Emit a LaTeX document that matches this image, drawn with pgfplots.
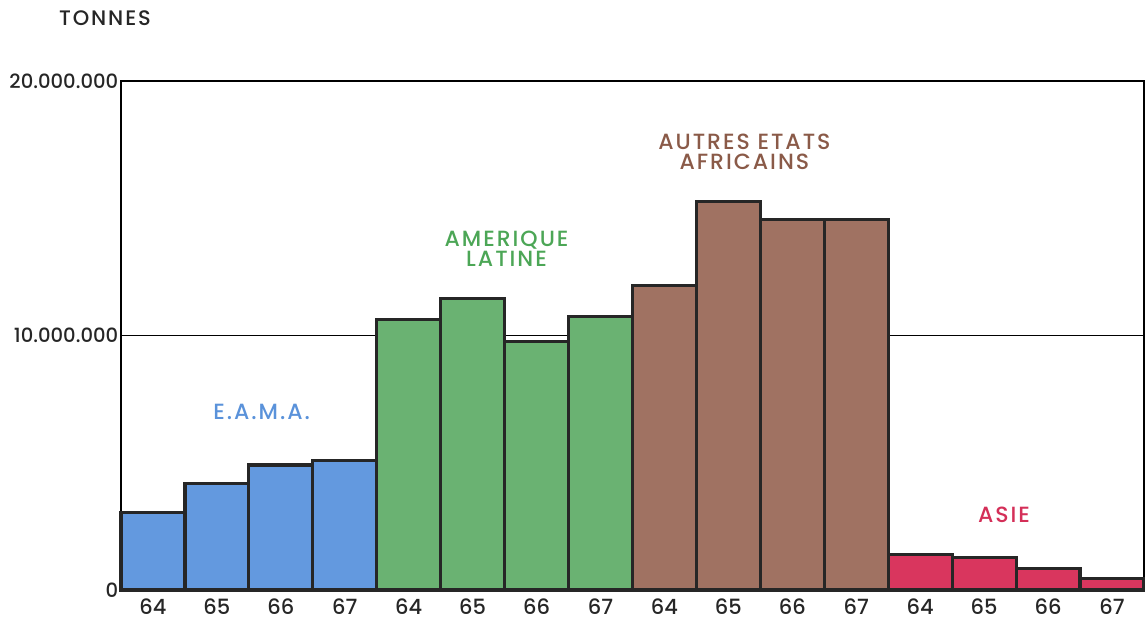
\documentclass[border=0pt]{standalone}
\usepackage{fontspec}
\setmainfont{Poppins Medium}
\newfontfamily\spaced[LetterSpace=9]{Poppins Medium}
\usepackage{pgfplots}
\pgfplotsset{compat=1.18}
\definecolor{cblue}{HTML}{6399DF}
\definecolor{cgreen}{HTML}{6AB272}
\definecolor{cbrown}{HTML}{A07262}
\definecolor{cred}{HTML}{D9365E}
\definecolor{tblue}{HTML}{5A92DA}
\definecolor{tgreen}{HTML}{4CA656}
\definecolor{tbrown}{HTML}{8A5A48}
\definecolor{tred}{HTML}{D42F58}
\begin{document}
\begin{tikzpicture}
\begin{axis}[
  scale only axis,
  width=511.5pt, height=254.5pt,
  xmin=-0.5, xmax=15.5, ymin=0, ymax=20000000,
  xtick={0,...,15},
  xticklabels={64,65,66,67,64,65,66,67,64,65,66,67,64,65,66,67},
  ytick={0,10000000,20000000},
  yticklabels={0,10.000.000,20.000.000},
  scaled y ticks=false,
  major tick length=0pt,
  ymajorgrids, grid style={black, line width=0.6pt},
  axis line style={black, line width=0.8pt},
  tick label style={font=\fontsize{10.5}{12}\selectfont, text=black!85},
  yticklabel style={inner sep=1.2pt, font=\fontsize{9.8}{12}\selectfont},
  xticklabel style={yshift=-1pt},
  ybar, bar width=1,
  every axis plot/.append style={bar shift=0pt, draw=black!85, line width=1.6pt},
  clip=false,
]
\addplot[fill=cblue] coordinates {(0,3040000) (1,4180000) (2,4910000) (3,5080000)};
\addplot[fill=cgreen] coordinates {(4,10640000) (5,11460000) (6,9760000) (7,10740000)};
\addplot[fill=cbrown] coordinates {(8,11960000) (9,15280000) (10,14570000) (11,14570000)};
\addplot[fill=cred] coordinates {(12,1380000) (13,1280000) (14,850000) (15,460000)};
\node[text=tblue, font=\spaced\fontsize{11}{13}\selectfont] at (axis cs:1.70,7000000) {E.A.M.A.};
\node[text=tgreen, font=\spaced\fontsize{11}{13}\selectfont, align=center] at (axis cs:5.53,13420000) {AMERIQUE\\[-3pt]LATINE};
\node[text=tbrown, font=\spaced\fontsize{11}{13}\selectfont, align=center] at (axis cs:9.25,17200000) {AUTRES ETATS\\[-3pt]AFRICAINS};
\node[text=tred, font=\spaced\fontsize{11}{13}\selectfont] at (axis cs:13.31,2950000) {ASIE};
\end{axis}
\node[font=\spaced\fontsize{10.5}{12}\selectfont, text=black!85] at (-8pt,286pt) {TONNES};
\pgfresetboundingbox
\path[use as bounding box] (-60.5pt,-16pt) rectangle (512pt,295pt);
\end{tikzpicture}
\end{document}
